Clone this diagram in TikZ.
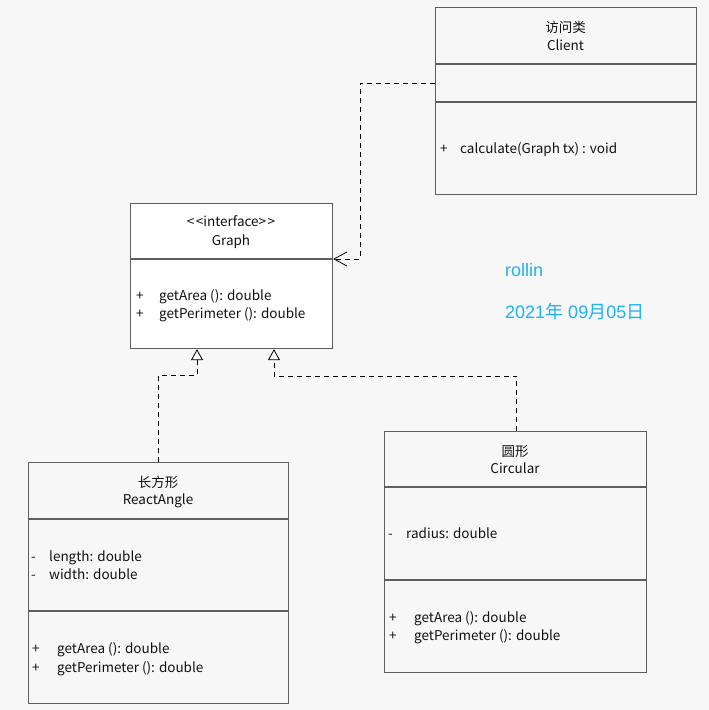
\documentclass[tikz,border=0pt]{standalone}
\usepackage{fontspec}
\setmainfont{Noto Sans CJK SC}
\newfontfamily\notefont{Liberation Sans}
\newfontfamily\cjkfont{Noto Sans CJK SC}
\usetikzlibrary{arrows.meta}
\definecolor{pagebg}{HTML}{F7F7F7}
\definecolor{edge}{HTML}{5E5E5E}
\definecolor{ink}{HTML}{111111}
\definecolor{note}{HTML}{1DB3F0}
\tikzset{
  classbox/.style={draw=edge, line width=1.1pt, anchor=north west, inner sep=0pt},
  divider/.style={draw=edge, line width=1.1pt},
  title/.style={anchor=base, inner sep=0pt, text=ink, font=\fontsize{13.5}{15}\selectfont},
  member/.style={anchor=base west, inner sep=0pt, text=ink, font=\fontsize{13.5}{15}\selectfont},
  remark/.style={anchor=base west, inner sep=0pt, text=note, font=\notefont\fontsize{18}{20}\selectfont},
  depend/.style={draw=black, line width=0.8pt, dash pattern=on 5pt off 4pt,
    -{Straight Barb[length=13pt,width=14pt,line width=0.8pt]}},
  realize/.style={draw=black, line width=0.8pt, dash pattern=on 5pt off 4pt,
    -{Triangle[open,length=11pt,width=12pt,line width=0.8pt,fill=pagebg]}},
}
\begin{document}
\begin{tikzpicture}[x=1pt, y=-1pt]
  \fill[pagebg] (0,0) rectangle (709,710);
  \useasboundingbox (0,0) rectangle (709,710);

  % Client class
  \node[classbox, minimum width=261pt, minimum height=187pt] (client) at (435,7) {};
  \draw[divider] (435,64) -- (696,64);
  \draw[divider] (435,102) -- (696,102);
  \node[title] (clientcn) at (565.5,32) {访问类};
  \node[title] (clientname) at (565.5,50) {Client};
  \node[member] (clientop1) at (440,153) {+};
  \node[member] (clientop1t) at (460,153) {calculate(Graph tx) : void};

  % Graph interface
  \node[classbox, fill=white, minimum width=202pt, minimum height=145pt] (graph) at (130,203) {};
  \draw[divider] (130,259) -- (332,259);
  \node[title] (graphst) at (231,226) {<\kern1.5pt<interface>\kern1.5pt>};
  \node[title] (graphname) at (231,245) {Graph};
  \node[member] (gop1) at (136,300) {+};
  \node[member] (gop1t) at (159,300) {getArea (): double};
  \node[member] (gop2) at (136,318) {+};
  \node[member] (gop2t) at (159,318) {getPerimeter (): double};

  % ReactAngle class
  \node[classbox, minimum width=260pt, minimum height=241pt] (rect) at (28,462) {};
  \draw[divider] (28,519) -- (288,519);
  \draw[divider] (28,611) -- (288,611);
  \node[title] (rectcn) at (158,487) {长方形};
  \node[title] (rectname) at (158,504) {ReactAngle};
  \node[member] (rattr1) at (31,561) {-};
  \node[member] (rattr1t) at (49,561) {length: double};
  \node[member] (rattr2) at (31,579) {-};
  \node[member] (rattr2t) at (49,579) {width: double};
  \node[member] (rop1) at (32,653) {+};
  \node[member] (rop1t) at (57,653) {getArea (): double};
  \node[member] (rop2) at (32,672) {+};
  \node[member] (rop2t) at (57,672) {getPerimeter (): double};

  % Circular class
  \node[classbox, minimum width=262pt, minimum height=241pt] (circ) at (384,431) {};
  \draw[divider] (384,487) -- (646,487);
  \draw[divider] (384,580) -- (646,580);
  \node[title] (circcn) at (515,456) {圆形};
  \node[title] (circname) at (515,473) {Circular};
  \node[member] (cattr1) at (388,538) {-};
  \node[member] (cattr1t) at (406,538) {radius: double};
  \node[member] (cop1) at (389,622) {+};
  \node[member] (cop1t) at (414,622) {getArea (): double};
  \node[member] (cop2) at (389,640) {+};
  \node[member] (cop2t) at (414,640) {getPerimeter (): double};

  % Author note
  \node[remark] (author) at (505,276) {rollin};
  \node[remark] (date) at (505,318)
    {2021{\cjkfont 年} 09{\cjkfont 月}05{\cjkfont 日}};

  % Dependency: Client uses Graph
  \coordinate (depbend) at (360,83);
  \draw[depend] ([yshift=-76pt]client.north west) -- (depbend)
    |- ([yshift=-56pt]graph.north east);

  % Realizations of Graph
  \coordinate (rbend) at (197,375);
  \coordinate (cbend) at (274,376);
  \draw[realize] (rect.north) |- (rbend) -- (rbend |- graph.south);
  \draw[realize] ([xshift=1pt]circ.north) |- (cbend) -- (cbend |- graph.south);
\end{tikzpicture}
\end{document}
